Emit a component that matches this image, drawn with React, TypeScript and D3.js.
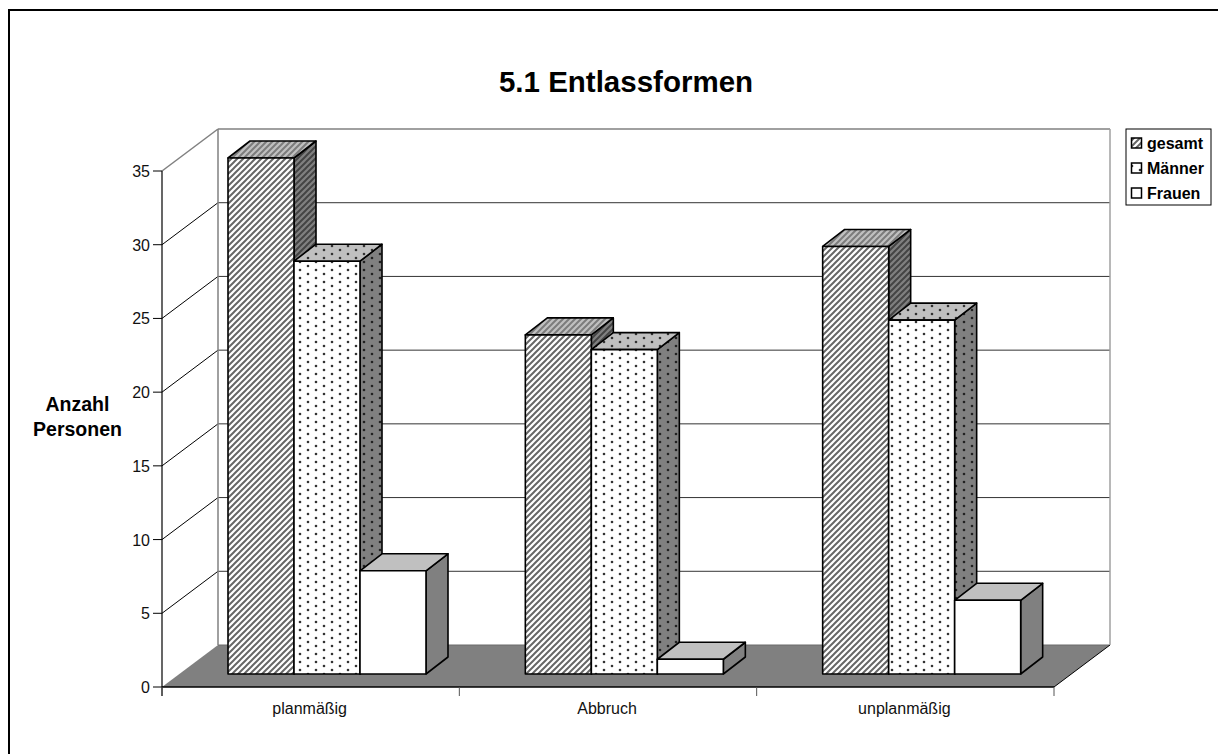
import React from "react";
import * as d3 from "d3";

const categories = ["planmäßig", "Abbruch", "unplanmäßig"];
const seriesNames = ["gesamt", "Männer", "Frauen"];
const gesamt = [35, 23, 29];
const maenner = [28, 22, 24];
const frauen = [7, 1, 5];
const yTicks = [0, 5, 10, 15, 20, 25, 30, 35];

const FONT = "'Liberation Sans', Arial, sans-serif";
const depth = { x: 56, y: -42 };
const barDepth = { x: 22, y: -17 };
const barFront = { x: 17, y: -13 };

const y = d3.scaleLinear().domain([0, 35]).range([687, 171]);
const x0 = d3.scaleBand<string>().domain(categories).range([162, 1054]);
const x1 = d3.scaleBand<string>().domain(seriesNames).range([66, 264]);

const poly = (pts: [number, number][]) => pts.map((p) => p.join(",")).join(" ");

function Patterns() {
  const hatch = (id: string, bg: string, fg: string) => (
    <pattern id={id} width={6} height={6} patternUnits="userSpaceOnUse">
      <rect width={6} height={6} fill={bg} />
      <path d="M-1.5,1.5 L1.5,-1.5 M0,6 L6,0 M4.5,7.5 L7.5,4.5" stroke={fg} strokeWidth={2} />
    </pattern>
  );
  const dots = (id: string, bg: string, fg: string) => (
    <pattern id={id} width={16} height={8} patternUnits="userSpaceOnUse">
      <rect width={16} height={8} fill={bg} />
      <circle cx={4} cy={2} r={1.3} fill={fg} />
      <circle cx={12} cy={6} r={1.3} fill={fg} />
    </pattern>
  );
  return (
    <defs>
      {hatch("h-front", "#ffffff", "#666666")}
      {hatch("h-top", "#c0c0c0", "#7c7c7c")}
      {hatch("h-side", "#808080", "#444444")}
      {dots("d-front", "#ffffff", "#333333")}
      {dots("d-top", "#c0c0c0", "#333333")}
      {dots("d-side", "#808080", "#222222")}
    </defs>
  );
}

const fills = [
  { front: "url(#h-front)", top: "url(#h-top)", side: "url(#h-side)" },
  { front: "url(#d-front)", top: "url(#d-top)", side: "url(#d-side)" },
  { front: "#ffffff", top: "#c0c0c0", side: "#808080" },
];

function Bar({ cat, s, value }: { cat: string; s: number; value: number }) {
  const xl = x0(cat)! + x1(seriesNames[s])!;
  const xr = xl + x1.bandwidth();
  const yb = y(0) + barFront.y;
  const yt = y(value) + barFront.y;
  const dx = barDepth.x;
  const dy = barDepth.y;
  const f = fills[s];
  const common = { stroke: "#000", strokeWidth: 1.6, strokeLinejoin: "round" as const };
  return (
    <g>
      <polygon points={poly([[xr, yb], [xr + dx, yb + dy], [xr + dx, yt + dy], [xr, yt]])} fill={f.side} {...common} />
      <polygon points={poly([[xl, yt], [xl + dx, yt + dy], [xr + dx, yt + dy], [xr, yt]])} fill={f.top} {...common} />
      <rect x={xl} y={yt} width={xr - xl} height={yb - yt} fill={f.front} {...common} />
    </g>
  );
}

export default function App() {
  const xL = 162;
  const xR = 1054;
  const y0 = y(0);
  const yTop = y(35);
  const series = [gesamt, maenner, frauen];
  const xTicks = [...categories.map((c) => x0(c)!), xR];
  return (
    <svg
      width={1218}
      height={754}
      viewBox="0 0 1218 754"
      style={{ position: "absolute", left: 0, top: 0, background: "#fff" }}
      fontFamily={FONT}
    >
      <Patterns />
      <path d="M9,754 V10 H1218" fill="none" stroke="#000" strokeWidth={2} />
      <text x={626} y={92} textAnchor="middle" fontSize={29.5} fontWeight="bold">5.1 Entlassformen</text>

      {/* floor */}
      <polygon
        points={poly([[xL, y0], [xR, y0], [xR + depth.x, y0 + depth.y], [xL + depth.x, y0 + depth.y]])}
        fill="#808080"
      />
      <line x1={xL + depth.x} x2={xR + depth.x} y1={y0 + depth.y} y2={y0 + depth.y} stroke="#6a6a6a" strokeWidth={1} />
      <line x1={xR} y1={y0} x2={xR + depth.x} y2={y0 + depth.y} stroke="#000" strokeWidth={1} />

      {/* walls and grid */}
      {yTicks.filter((t) => t > 0).map((t) => (
        <g key={t}>
          <line
            x1={xL} y1={y(t)} x2={xL + depth.x} y2={y(t) + depth.y}
            stroke={t === 35 ? "#808080" : "#000"} strokeWidth={t === 35 ? 1.5 : 1}
          />
          <line
            x1={xL + depth.x} x2={xR + depth.x} y1={y(t) + depth.y} y2={y(t) + depth.y}
            stroke={t === 35 ? "#808080" : "#333"} strokeWidth={t === 35 ? 1.5 : 1}
          />
        </g>
      ))}
      <line x1={xL + depth.x} x2={xL + depth.x} y1={yTop + depth.y} y2={y0 + depth.y} stroke="#808080" strokeWidth={1.5} />
      <line x1={xR + depth.x} x2={xR + depth.x} y1={yTop + depth.y} y2={y0 + depth.y} stroke="#a0a0a0" strokeWidth={1.5} />

      {/* axes */}
      <line x1={xL} x2={xL} y1={yTop} y2={y0 + 9} stroke="#000" strokeWidth={1.2} />
      <line x1={xL} x2={xR} y1={y0} y2={y0} stroke="#000" strokeWidth={1.5} />
      {yTicks.map((t) => (
        <g key={t}>
          <line x1={xL - 9} x2={xL} y1={y(t)} y2={y(t)} stroke="#000" strokeWidth={1} />
          <text x={xL - 12} y={y(t) + 6} textAnchor="end" fontSize={16} fill="#111">{t}</text>
        </g>
      ))}
      {xTicks.map((t) => (
        <line key={t} x1={t} x2={t} y1={y0} y2={y0 + 9} stroke="#555" strokeWidth={1} />
      ))}
      {categories.map((c) => (
        <text key={c} x={x0(c)! + x0.bandwidth() / 2 - 1} y={714} textAnchor="middle" fontSize={16} fill="#111">{c}</text>
      ))}

      {/* bars */}
      {categories.map((c, ci) =>
        seriesNames.map((n, s) => <Bar key={c + n} cat={c} s={s} value={series[s][ci]} />)
      )}

      {/* y title */}
      <text x={77.5} y={411} textAnchor="middle" fontSize={19.5} fontWeight="bold">Anzahl</text>
      <text x={77.5} y={436} textAnchor="middle" fontSize={19.5} fontWeight="bold">Personen</text>

      {/* legend */}
      <rect x={1126} y={129} width={85} height={76} fill="#fff" stroke="#000" strokeWidth={1} />
      {seriesNames.map((n, s) => {
        const cy = 143 + s * 25;
        return (
          <g key={n}>
            <rect x={1131.5} y={cy - 5} width={10} height={10} fill={fills[s].front} stroke="#000" strokeWidth={1.5} />
            <text x={1147} y={cy + 5.5} fontSize={16} fontWeight="bold">{n}</text>
          </g>
        );
      })}
    </svg>
  );
}
